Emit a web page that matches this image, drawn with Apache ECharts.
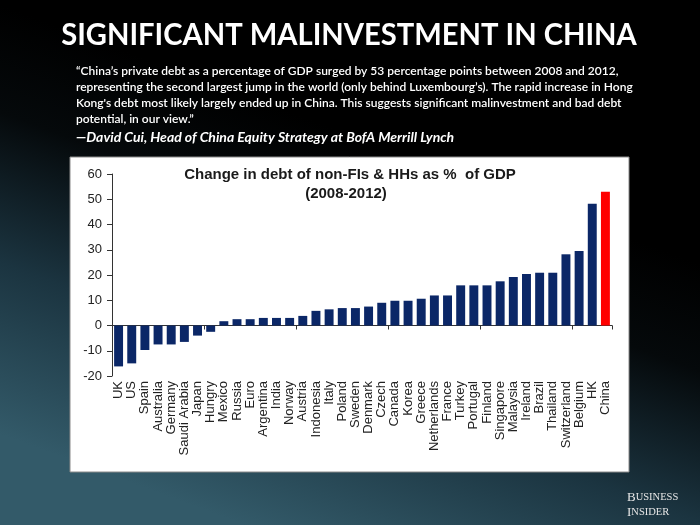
<!DOCTYPE html>
<html>
<head>
<meta charset="utf-8">
<script src="https://cdn.jsdelivr.net/npm/echarts@6/dist/echarts.min.js"></script>
<style>
html,body{margin:0;padding:0;background:#000;}
#chart{width:700px;height:525px;}
</style>
</head>
<body>
<div id="chart"></div>
<script>
var countries = ["UK","US","Spain","Australia","Germany","Saudi Arabia","Japan","Hungry","Mexico","Russia","Euro","Argentina","India","Norway","Austria","Indonesia","Italy","Poland","Sweden","Denmark","Czech","Canada","Korea","Greece","Netherlands","France","Turkey","Portugal","Finland","Singapore","Malaysia","Ireland","Brazil","Thailand","Switzerland","Belgium","HK","China"];
var debtChange = [-16.2,-15,-9.7,-7.5,-7.5,-6.5,-4,-2.5,1.7,2.5,2.5,3,3,3,3.8,5.8,6.4,6.9,6.9,7.5,9,9.8,9.8,10.6,11.9,11.9,15.9,15.9,15.9,17.5,19.2,20.4,20.9,20.9,28.2,29.5,48.2,53];
var yTicks = {min:-20, max:60, interval:10};
var pageTitle = "SIGNIFICANT MALINVESTMENT IN CHINA";
var quoteLines = [
  "\u201CChina\u2019s private debt as a percentage of GDP surged by 53 percentage points between 2008 and 2012,",
  "representing the second largest jump in the world (only behind Luxembourg\u2019s). The rapid increase in Hong",
  "Kong's debt most likely largely ended up in China. This suggests significant malinvestment and bad debt",
  "potential, in our view.\u201D"
];
var attribution = "\u2014David Cui, Head of China Equity Strategy at BofA Merrill Lynch";
var chartTitle = ["Change in debt of non-FIs & HHs as %  of GDP", "(2008-2012)"];
var highlight = "China";

var chart = echarts.init(document.getElementById('chart'));

var graphics = [
  {type:'rect', z:-20, shape:{x:0,y:0,width:700,height:525},
   style:{fill:{type:'linear',x:0.55,y:0.28,x2:0.35,y2:1,colorStops:[
     {offset:0,color:'#000000'},{offset:0.25,color:'#05090b'},{offset:0.6,color:'#1b3440'},{offset:1,color:'#335a69'}]}}},
  {type:'rect', z:-10, shape:{x:70,y:157,width:559,height:315},
   style:{fill:'#ffffff', stroke:'#8a8a8a', lineWidth:1}},
  {type:'text', z:10, x:349, y:35, scaleX:0.94,
   style:{text:pageTitle, fill:'#ffffff', font:'bold 31px Lato, "Open Sans", sans-serif', textAlign:'center', textVerticalAlign:'middle'}}
];
quoteLines.forEach(function(t,i){
  graphics.push({type:'text', z:10, left:76, top:65+i*16,
    style:{text:t, fill:'#ffffff', font:'600 12px Lato, "Open Sans", sans-serif'}});
});
graphics.push({type:'text', z:10, left:76, top:130,
  style:{text:attribution, fill:'#ffffff', font:'italic bold 14px Lato, "Open Sans", sans-serif'}});
graphics.push({type:'text', z:10, x:350, y:167,
  style:{text:chartTitle[0], fill:'#1a1a1a', font:'bold 15px "Liberation Sans", Arial, sans-serif', textAlign:'center'}});
graphics.push({type:'text', z:10, x:346, y:186,
  style:{text:chartTitle[1], fill:'#1a1a1a', font:'bold 15px "Liberation Sans", Arial, sans-serif', textAlign:'center'}});
graphics.push({type:'text', z:10, left:627, top:490,
  style:{rich:{a:{fontFamily:'"Liberation Serif", serif', fontSize:13, fill:'#e6e6e6'}, b:{fontFamily:'"Liberation Serif", serif', fontSize:10.5, fill:'#e6e6e6'}},
         text:'{a|B}{b|USINESS}\n{a|I}{b|NSIDER}', lineHeight:15}});

var option = {
  animation:false,
  graphic:graphics,
  grid:{left:112, right:88, top:174, bottom:149, containLabel:false},
  xAxis:[
    {type:'category', data:countries, position:'bottom',
     axisLine:{show:false, onZero:false}, axisTick:{show:false},
     axisLabel:{rotate:90, interval:0, margin:5, color:'#222', fontFamily:'"Liberation Sans", Arial, sans-serif', fontSize:13}},
    {type:'category', data:countries, position:'bottom',
     axisLine:{show:true, onZero:true, lineStyle:{color:'#333', width:1}},
     axisTick:{show:true, inside:false, length:4, lineStyle:{color:'#333'}},
     axisLabel:{show:false}}
  ],
  yAxis:{type:'value', min:yTicks.min, max:yTicks.max, interval:yTicks.interval,
    splitLine:{show:false},
    axisLine:{show:true, lineStyle:{color:'#333', width:1}},
    axisTick:{show:true, length:5, lineStyle:{color:'#333'}},
    axisLabel:{margin:10, color:'#222', fontFamily:'"Liberation Sans", Arial, sans-serif', fontSize:13}},
  series:[{
    type:'bar', xAxisIndex:0, barCategoryGap:'32%',
    data:debtChange.map(function(v,i){
      return {value:v, itemStyle:{color: countries[i]===highlight ? '#ff0000' : '#0b2767'}};
    })
  }]
};
chart.setOption(option);
</script>
</body>
</html>
